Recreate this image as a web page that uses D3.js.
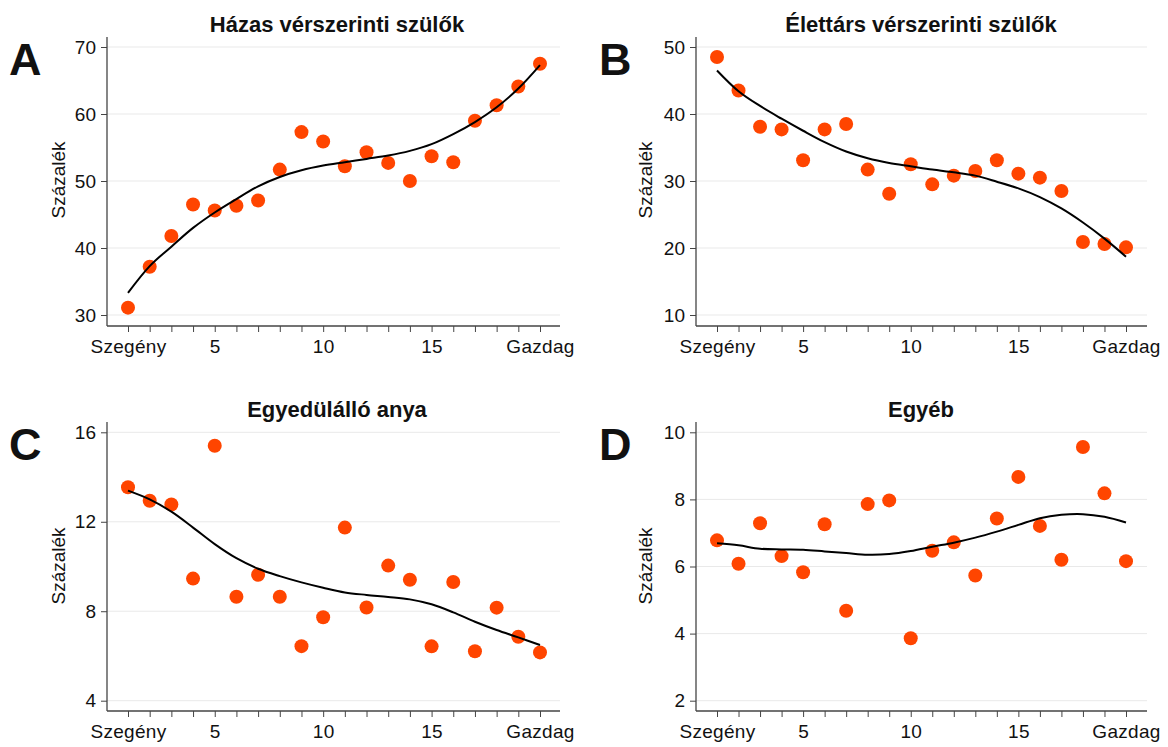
<!DOCTYPE html>
<html><head><meta charset="utf-8">
<script src="https://cdn.jsdelivr.net/npm/d3@7"></script>
<style>body{margin:0;background:#fff} text{font-family:"Liberation Sans",Arial,sans-serif;fill:#111}</style>
</head><body><svg id="c" width="1168" height="747"></svg>
<script>
// ---- data ----
const groups = [1,2,3,4,5,6,7,8,9,10,11,12,13,14,15,16,17,18,19,20];
const xTickValues = [1,5,10,15,20];
const xTickLabels = ["Szegény","5","10","15","Gazdag"];
const titles = ["Házas vérszerinti szülők","Élettárs vérszerinti szülők","Egyedülálló anya","Egyéb"];
const letters = ["A","B","C","D"];
const yLabel = "Százalék";

const hazasPoints = [31.1,37.2,41.8,46.5,45.6,46.3,47.1,51.7,57.3,55.9,52.2,54.3,52.7,50.0,53.7,52.8,59.0,61.3,64.1,67.5];
const hazasFit    = [33.3,37.3,40.2,43.0,45.3,47.3,49.2,50.6,51.6,52.3,52.8,53.3,53.8,54.5,55.5,57.0,58.8,61.0,63.8,67.3];

const elettarsPoints = [48.5,43.5,38.1,37.7,33.1,37.7,38.5,31.7,28.1,32.5,29.5,30.8,31.5,33.1,31.1,30.5,28.5,20.9,20.6,20.1];
const elettarsFit    = [46.5,43.4,41.2,39.3,37.5,35.8,34.4,33.4,32.7,32.2,31.7,31.3,30.8,29.9,28.9,27.6,25.9,23.8,21.4,18.7];

const anyaPoints = [13.54,12.94,12.77,9.46,15.4,8.65,9.63,8.65,6.44,7.73,11.74,8.17,10.04,9.41,6.43,9.31,6.21,8.16,6.86,6.16];
const anyaFit    = [13.39,13.0,12.45,11.74,11.0,10.37,9.9,9.57,9.29,9.05,8.84,8.73,8.64,8.53,8.31,7.95,7.53,7.16,6.83,6.49];

const egyebPoints = [6.78,6.08,7.29,6.31,5.83,7.26,4.68,7.86,7.97,3.86,6.47,6.72,5.73,7.43,8.67,7.21,6.2,9.56,8.18,6.16];
const egyebFit    = [6.69,6.63,6.53,6.51,6.50,6.45,6.40,6.35,6.37,6.46,6.59,6.71,6.86,7.04,7.24,7.44,7.54,7.56,7.48,7.31];

const yTicksA = [30,40,50,60,70];
const yTicksB = [10,20,30,40,50];
const yTicksC = [4,8,12,16];
const yTicksD = [2,4,6,8,10];

// ---- layout ----
const svg = d3.select("#c");
const left  = {axisX:107, xr:[128,540], xEnd:560, titleX:337, letterX:9, ylabX:58};
const right = {axisX:696, xr:[717,1126], xEnd:1147, titleX:921, letterX:599, ylabX:645};
const top_  = {yr:[315,47], yTop:37, axisY:326, titleY:31.5, letterY:75, ylabY:180};
const bot   = {yr:[700.7,432.3], yTop:422, axisY:711, titleY:417, letterY:460, ylabY:566};

const panels = [
  {h:left,  v:top_, title:titles[0], letter:letters[0], pts:hazasPoints,    fit:hazasFit,    dom:[30,70], ticks:yTicksA},
  {h:right, v:top_, title:titles[1], letter:letters[1], pts:elettarsPoints, fit:elettarsFit, dom:[10,50], ticks:yTicksB},
  {h:left,  v:bot,  title:titles[2], letter:letters[2], pts:anyaPoints,     fit:anyaFit,     dom:[4,16],  ticks:yTicksC},
  {h:right, v:bot,  title:titles[3], letter:letters[3], pts:egyebPoints,    fit:egyebFit,    dom:[2,10],  ticks:yTicksD}
];

const axisCol = "#444";
panels.forEach(p => {
  const g = svg.append("g");
  const x = d3.scaleLinear().domain([1,20]).range(p.h.xr);
  const y = d3.scaleLinear().domain(p.dom).range(p.v.yr);

  // gridlines
  g.selectAll("line.grid").data(p.ticks).enter().append("line")
    .attr("x1", p.h.axisX).attr("x2", p.h.xEnd)
    .attr("y1", d => y(d)).attr("y2", d => y(d))
    .attr("stroke", "#e9e9e9").attr("stroke-width", 1);

  // y axis
  const ya = g.append("g").attr("transform", `translate(${p.h.axisX},0)`)
    .call(d3.axisLeft(y).tickValues(p.ticks).tickSize(6).tickPadding(5).tickFormat(d3.format("d")));
  ya.select(".domain").remove();
  ya.selectAll(".tick line").attr("stroke", axisCol);
  ya.selectAll(".tick text").style("font-size","19px").attr("fill","#111");
  g.append("line").attr("x1",p.h.axisX).attr("x2",p.h.axisX)
    .attr("y1",p.v.yTop).attr("y2",p.v.axisY).attr("stroke",axisCol).attr("stroke-width",1.3);

  // x axis minor ticks
  const xa = g.append("g").attr("transform", `translate(0,${p.v.axisY})`)
    .call(d3.axisBottom(x).tickValues(groups).tickSize(6).tickFormat(""));
  xa.select(".domain").remove();
  xa.selectAll(".tick line").attr("stroke", axisCol);
  // labels
  const xl = g.append("g").attr("transform", `translate(0,${p.v.axisY})`)
    .call(d3.axisBottom(x).tickValues(xTickValues).tickSize(0).tickPadding(14)
      .tickFormat((d,i) => xTickLabels[i]));
  xl.select(".domain").remove();
  xl.selectAll(".tick text").style("font-size","19px").style("letter-spacing","0.3px").attr("fill","#111");
  g.append("line").attr("x1",p.h.axisX).attr("x2",p.h.xEnd)
    .attr("y1",p.v.axisY).attr("y2",p.v.axisY).attr("stroke",axisCol).attr("stroke-width",1.3);

  // points
  g.selectAll("circle").data(groups).enter().append("circle")
    .attr("cx", d => x(d)).attr("cy", (d,i) => y(p.pts[i]))
    .attr("r", 7).attr("fill", "#ff4500");

  // fit line
  const line = d3.line().x(d => x(d)).y((d,i) => y(p.fit[i])).curve(d3.curveCatmullRom);
  g.append("path").datum(groups).attr("d", line)
    .attr("fill","none").attr("stroke","#000").attr("stroke-width",2);

  // title
  g.append("text").attr("x", p.h.titleX).attr("y", p.v.titleY)
    .attr("text-anchor","middle").style("font-size","22px").style("font-weight","bold").text(p.title);
  // letter
  g.append("text").attr("x", p.h.letterX).attr("y", p.v.letterY)
    .style("font-size","45px").style("font-weight","bold").attr("fill","#000").text(p.letter);
  // y label
  g.append("text").attr("transform", `translate(${p.h.ylabX},${p.v.ylabY}) rotate(-90)`)
    .attr("text-anchor","middle").attr("dy","0.35em").style("font-size","19px").text(yLabel);
});
</script></body></html>
